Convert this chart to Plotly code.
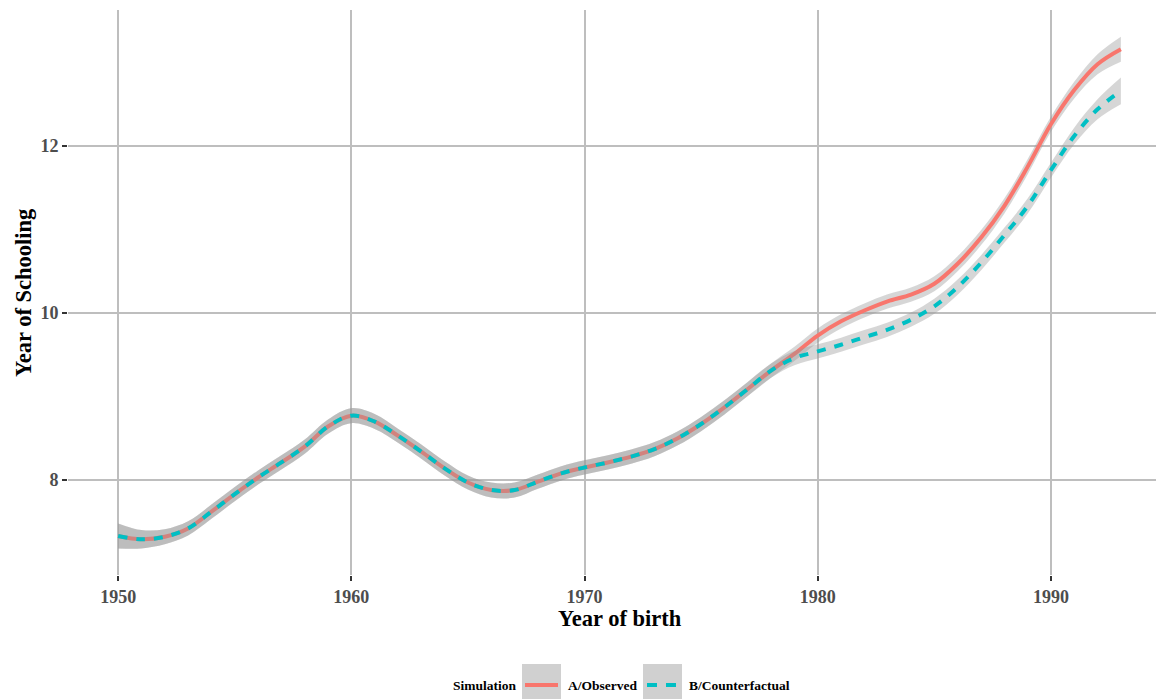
import plotly.graph_objects as go

years = list(range(1950, 1994))

# A/Observed smoothed values
observed = [7.33, 7.29, 7.32, 7.42, 7.62, 7.83, 8.03, 8.21, 8.40, 8.64,
            8.77, 8.70, 8.53, 8.34, 8.14, 7.97, 7.88, 7.88, 7.98, 8.08,
            8.15, 8.21, 8.28, 8.37, 8.50, 8.67, 8.87, 9.09, 9.31, 9.51,
            9.73, 9.90, 10.03, 10.14, 10.22, 10.35, 10.59, 10.90, 11.28, 11.75,
            12.26, 12.67, 12.98, 13.16]
# B/Counterfactual smoothed values
counterfactual = [7.33, 7.29, 7.32, 7.42, 7.62, 7.83, 8.03, 8.21, 8.40, 8.64,
                  8.77, 8.70, 8.53, 8.34, 8.14, 7.97, 7.88, 7.88, 7.98, 8.08,
                  8.15, 8.21, 8.28, 8.37, 8.50, 8.67, 8.87, 9.09, 9.31, 9.46,
                  9.54, 9.62, 9.71, 9.80, 9.92, 10.08, 10.31, 10.60, 10.93, 11.28,
                  11.71, 12.12, 12.44, 12.66]
# confidence band half-widths
se_observed = [0.15, 0.11, 0.09, 0.085, 0.085, 0.085, 0.085, 0.085, 0.085, 0.085,
               0.09, 0.09, 0.085, 0.085, 0.085, 0.085, 0.09, 0.09, 0.085, 0.085,
               0.085, 0.085, 0.085, 0.085, 0.085, 0.085, 0.085, 0.085, 0.085, 0.085,
               0.085, 0.085, 0.085, 0.085, 0.085, 0.09, 0.09, 0.09, 0.09, 0.09,
               0.09, 0.10, 0.12, 0.15]
se_counterfactual = [0.15, 0.11, 0.09, 0.085, 0.085, 0.085, 0.085, 0.085, 0.085, 0.085,
                     0.09, 0.09, 0.085, 0.085, 0.085, 0.085, 0.09, 0.09, 0.085, 0.085,
                     0.085, 0.085, 0.085, 0.085, 0.085, 0.085, 0.085, 0.085, 0.085, 0.085,
                     0.085, 0.085, 0.085, 0.085, 0.085, 0.09, 0.09, 0.09, 0.09, 0.09,
                     0.09, 0.10, 0.12, 0.16]

x_ticks = [1950, 1960, 1970, 1980, 1990]
y_ticks = [8, 10, 12]
series_names = ["A/Observed", "B/Counterfactual"]
legend_title = "Simulation"

RED = "#F8766D"
CYAN = "#00BFC4"
RIBBON = "rgba(153,153,153,0.4)"
FONT = "Liberation Serif"

fig = go.Figure()

def add_series(vals, se, color, dash, name):
    lo = [v - s for v, s in zip(vals, se)]
    hi = [v + s for v, s in zip(vals, se)]
    fig.add_trace(go.Scatter(x=years, y=lo, mode="lines",
                             line=dict(width=0, shape="spline", smoothing=1),
                             showlegend=False, hoverinfo="skip"))
    fig.add_trace(go.Scatter(x=years, y=hi, mode="lines", fill="tonexty",
                             fillcolor=RIBBON,
                             line=dict(width=0, shape="spline", smoothing=1),
                             showlegend=False, hoverinfo="skip"))
    fig.add_trace(go.Scatter(x=years, y=vals, mode="lines", name=name,
                             line=dict(color=color, width=4, dash=dash,
                                       shape="spline", smoothing=1),
                             showlegend=False))

add_series(observed, se_observed, RED, "solid", series_names[0])
add_series(counterfactual, se_counterfactual, CYAN, "9px,9px", series_names[1])

# page offset from default body margin
OFF = 8
FW, FH = 1164 - OFF, 699 - OFF
# panel geometry in page pixels
L, T, R, B = 68, 10, 1164, 575
W = R - L
H = B - T
def px(xp):
    return (xp - L) / W
def py(yp):
    return (B - yp) / H

shapes = [
    dict(type="rect", xref="paper", yref="paper", x0=px(522), x1=px(561),
         y0=py(700), y1=py(664), fillcolor="#d0d0d0", line=dict(width=0), layer="above"),
    dict(type="rect", xref="paper", yref="paper", x0=px(643), x1=px(682),
         y0=py(700), y1=py(664), fillcolor="#d0d0d0", line=dict(width=0), layer="above"),
    dict(type="line", xref="paper", yref="paper", x0=px(525), x1=px(558),
         y0=py(685), y1=py(685), line=dict(color=RED, width=4), layer="above"),
    dict(type="line", xref="paper", yref="paper", x0=px(647), x1=px(676),
         y0=py(685), y1=py(685), line=dict(color=CYAN, width=4, dash="10px,9px"), layer="above"),
]

annotations = [
    dict(text="<b>Year of birth</b>", xref="paper", yref="paper", x=px(619.5), y=py(618),
         xanchor="center", yanchor="middle", showarrow=False,
         font=dict(family=FONT, size=22.5, color="black")),
    dict(text="<b>Year of Schooling</b>", xref="paper", yref="paper", x=px(23), y=py(293),
         xanchor="center", yanchor="middle", showarrow=False, textangle=-90,
         font=dict(family=FONT, size=22.5, color="black")),
    dict(text="<b>" + legend_title + "</b>", xref="paper", yref="paper", x=px(451), y=py(685),
         xanchor="left", yanchor="middle", showarrow=False,
         font=dict(family=FONT, size=13.5, color="black")),
    dict(text="<b>" + series_names[0] + "</b>", xref="paper", yref="paper", x=px(566), y=py(685),
         xanchor="left", yanchor="middle", showarrow=False,
         font=dict(family=FONT, size=13.5, color="black")),
    dict(text="<b>" + series_names[1] + "</b>", xref="paper", yref="paper", x=px(687), y=py(685),
         xanchor="left", yanchor="middle", showarrow=False,
         font=dict(family=FONT, size=13.5, color="black")),
]

fig.update_layout(
    width=FW, height=FH,
    margin=dict(l=L - OFF, r=FW - (R - OFF), t=T - OFF, b=FH - (B - OFF), autoexpand=False),
    paper_bgcolor="white", plot_bgcolor="white",
    showlegend=False,
    shapes=shapes, annotations=annotations,
    xaxis=dict(range=[1947.85, 1994.85], tickvals=x_ticks,
               showgrid=True, gridcolor="#bebebe", gridwidth=2,
               zeroline=False, showline=False,
               ticks="outside", ticklen=5, tickwidth=2, tickcolor="#333333",
               tickfont=dict(family=FONT, size=18, color="#4d4d4d", weight="bold")),
    yaxis=dict(range=[6.862, 13.629], tickvals=y_ticks,
               showgrid=True, gridcolor="#bebebe", gridwidth=2,
               zeroline=False, showline=False,
               ticks="outside", ticklen=5, tickwidth=2, tickcolor="#333333",
               tickfont=dict(family=FONT, size=18, color="#4d4d4d", weight="bold")),
)

fig.write_html("out.html")
